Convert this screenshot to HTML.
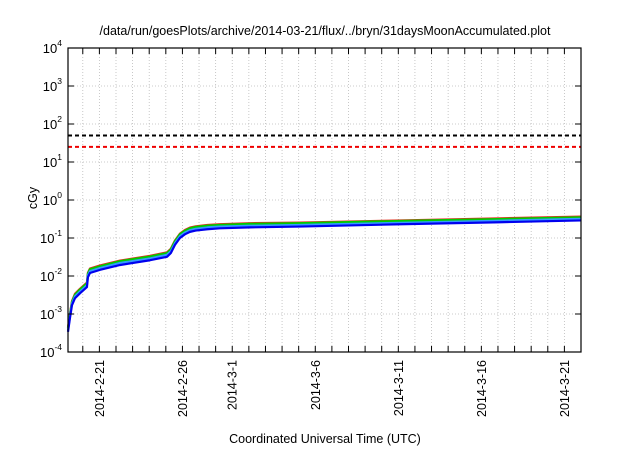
<!DOCTYPE html>
<html><head><meta charset="utf-8"><style>
body{margin:0;background:#fff}
svg text{font-family:"Liberation Sans",sans-serif;fill:#000}
</style></head><body>
<svg width="640" height="448" viewBox="0 0 640 448">
<rect width="640" height="448" fill="#fff"/>
<g id="grid"></g>
<g id="series"></g>
<rect x="68" y="48" width="513" height="304" fill="none" stroke="#000" stroke-width="1.2"/>
<g id="axes"></g>
<text x="325" y="35" font-size="12.5" text-anchor="middle">/data/run/goesPlots/archive/2014-03-21/flux/../bryn/31daysMoonAccumulated.plot</text>
<text x="0" y="0" font-size="12.5" text-anchor="middle" transform="translate(37,198) rotate(-90)">cGy</text>
<text x="325" y="443" font-size="12.5" text-anchor="middle">Coordinated Universal Time (UTC)</text>
</svg>
<script>
const days=[-1.89,-1.77,-1.65,-1.47,-1.17,-0.75,-0.69,-0.57,0.04,1.25,3.05,4.07,4.3,4.55,4.85,5.15,5.45,5.8,6.5,7.25,9.06,12.07,18.1,24.1,29.0];
const blue=[3.4e-4,7.9e-4,1.7e-3,2.6e-3,3.5e-3,5.1e-3,9.3e-3,1.2e-2,1.45e-2,1.95e-2,2.6e-2,3.2e-2,4.0e-2,6.6e-2,0.10,0.125,0.145,0.157,0.17,0.18,0.19,0.20,0.23,0.26,0.29];
const cyan=[3.8e-4,8.8e-4,1.9e-3,2.9e-3,3.9e-3,5.7e-3,1.04e-2,1.34e-2,1.62e-2,2.2e-2,2.9e-2,3.6e-2,4.45e-2,7.3e-2,0.112,0.139,0.16,0.174,0.19,0.20,0.21,0.22,0.25,0.285,0.32];
const green=[4.2e-4,9.8e-4,2.1e-3,3.2e-3,4.4e-3,6.4e-3,1.16e-2,1.5e-2,1.8e-2,2.45e-2,3.25e-2,4.0e-2,5.0e-2,8.2e-2,0.125,0.155,0.18,0.195,0.21,0.22,0.235,0.245,0.28,0.315,0.35];
const red=[4.4e-4,1.02e-3,2.2e-3,3.4e-3,4.6e-3,6.7e-3,1.22e-2,1.57e-2,1.9e-2,2.55e-2,3.4e-2,4.2e-2,5.2e-2,8.6e-2,0.13,0.162,0.188,0.203,0.22,0.23,0.245,0.255,0.29,0.33,0.365];
const thresholds=[50,25];
const yTickExp=[-4,-3,-2,-1,0,1,2,3,4];
const xTickDays=[0,5,8,13,18,23,28];
const xTickLabels=["2014-2-21","2014-2-26","2014-3-1","2014-3-6","2014-3-11","2014-3-16","2014-3-21"];
const X0=68,X1=581,Y0=352,Y1=48,DMIN=-1.89,DMAX=29.0;
const xs=d=>X0+(d-DMIN)/(DMAX-DMIN)*(X1-X0);
const ys=v=>Y0-(Math.log10(v)+4)/8*(Y0-Y1);
const NS="http://www.w3.org/2000/svg";
function mk(tag,attrs,parent){const e=document.createElementNS(NS,tag);for(const k in attrs)e.setAttribute(k,attrs[k]);parent.appendChild(e);return e;}
const grid=document.getElementById('grid'),axes=document.getElementById('axes'),ser=document.getElementById('series');
for(let d=-1;d<=29;d++){const x=xs(d);
 const g=mk('line',{x1:x,x2:x,y1:Y1,y2:Y0,stroke:'#bbb','stroke-width':0.8,'stroke-dasharray':'1,2'},grid);
 
 const t=mk('line',{x1:x,x2:x,y1:Y0,y2:Y0-6,stroke:'#000','stroke-width':1},axes);
 
 const t2=mk('line',{x1:x,x2:x,y1:Y1,y2:Y1+6,stroke:'#000','stroke-width':1},axes);
 }
yTickExp.forEach(e=>{const y=ys(Math.pow(10,e));
 if(e>-4&&e<4){const g=mk('line',{x1:X0,x2:X1,y1:y,y2:y,stroke:'#bbb','stroke-width':0.8,'stroke-dasharray':'1,2'},grid);
 }
 const t=mk('line',{x1:X0,x2:X0+6,y1:y,y2:y,stroke:'#000'},axes);
 
 const t2=mk('line',{x1:X1-6,x2:X1,y1:y,y2:y,stroke:'#000'},axes);
 
 const tx=mk('text',{x:X0-6,y:y+5,'font-size':13,'text-anchor':'end'},axes);
 
 tx.appendChild(document.createTextNode('10'));
 const sp=mk('tspan',{dy:-7,'font-size':8.5},tx);sp.textContent=String(e);});
xTickDays.forEach((d,i)=>{const x=xs(d);
 const tx=mk('text',{x:0,y:0,'font-size':12.5,'text-anchor':'end',transform:`translate(${x+4.5},360) rotate(-90)`},axes);
 
 tx.textContent=xTickLabels[i];});
const thrColors=['#000','#e00'];
thresholds.forEach((v,i)=>{const l=mk('line',{x1:X0,x2:X1,y1:ys(v),y2:ys(v),stroke:thrColors[i],'stroke-width':2,'stroke-dasharray':'4,3'},ser);
 });
[[red,'#e03020','series-red'],[green,'#00cc00','series-green'],[cyan,'#3399ff','series-cyan'],[blue,'#0000ee','series-blue']].forEach(([arr,c,n])=>{
 const p=mk('polyline',{points:arr.map((v,i)=>xs(days[i])+','+ys(v)).join(' '),fill:'none',stroke:c,'stroke-width':2.2,'stroke-linejoin':'round'},ser);
 });
</script>
</body></html>
